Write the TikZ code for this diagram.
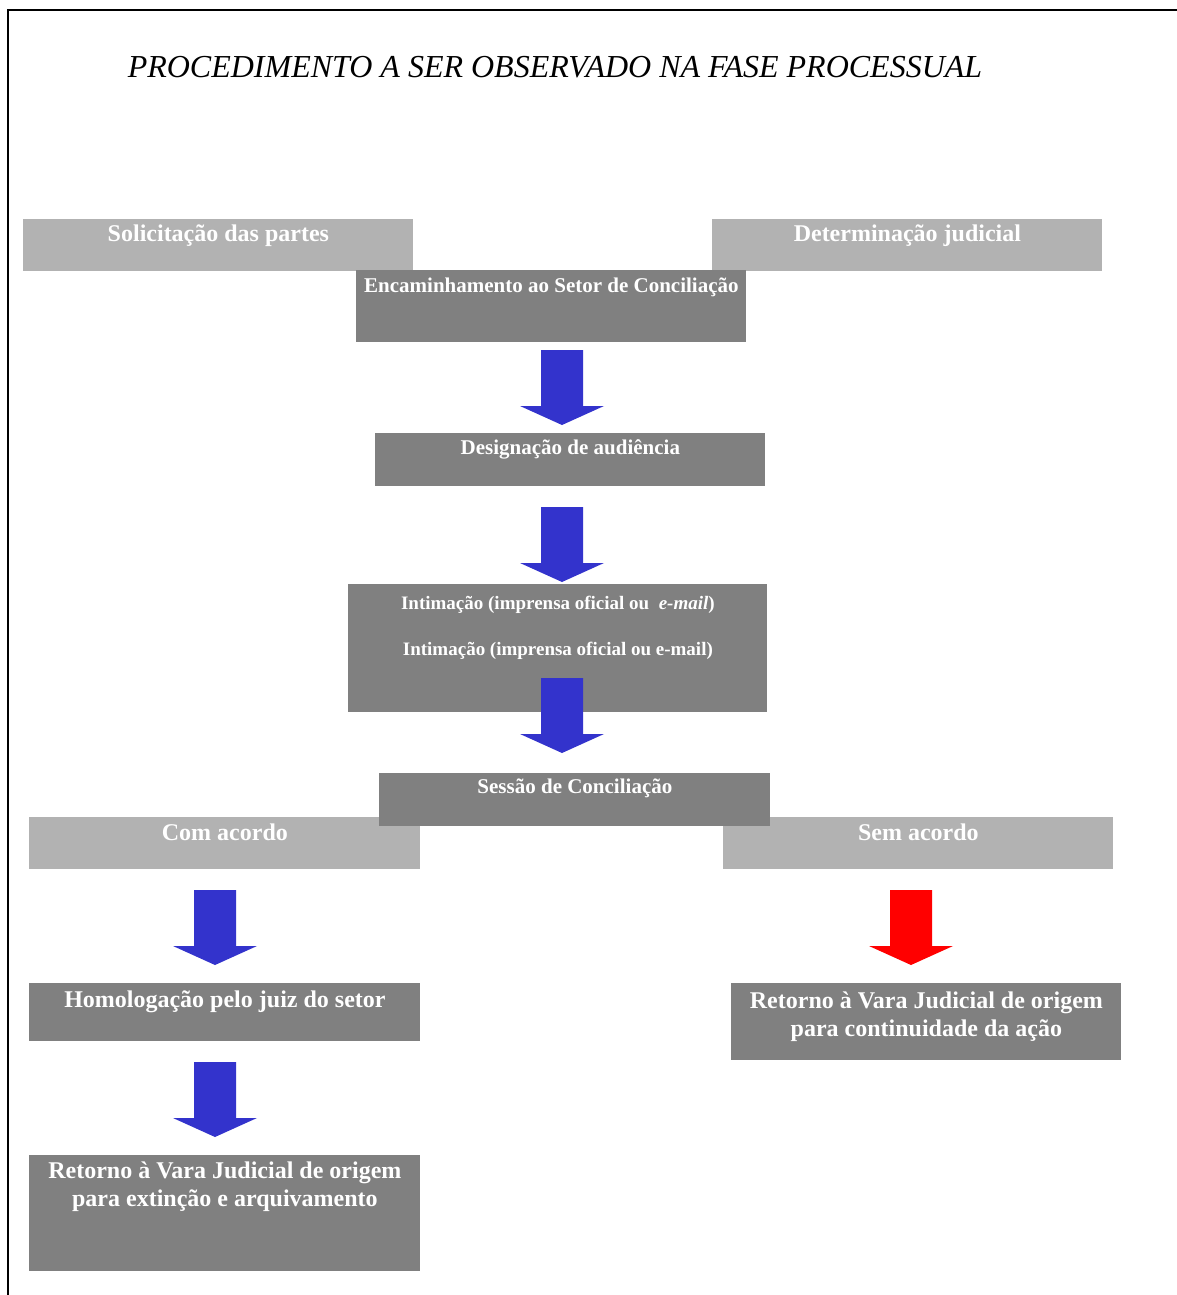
\documentclass[tikz,border=0pt]{standalone}
\usepackage{fontspec}
\setmainfont{Liberation Serif}
\usetikzlibrary{calc}
\definecolor{boxdark}{HTML}{808080}
\definecolor{boxlight}{HTML}{B2B2B2}
\definecolor{arrblue}{HTML}{3333CC}
\definecolor{arrred}{HTML}{FF0000}
\tikzset{
  box/.style={fill=boxdark,inner sep=0pt,anchor=north west},
  boxl/.style={box,fill=boxlight},
  lbl/.style={text=white,align=center,inner sep=0pt,anchor=base,font=\bfseries\fontsize{12}{14}\selectfont},
  lbls/.style={lbl,font=\bfseries\fontsize{10.5}{13}\selectfont},
  lblt/.style={lbl,font=\bfseries\fontsize{9.5}{23}\selectfont},
  ttl/.style={inner sep=0pt,anchor=base,font=\itshape\fontsize{16}{19}\selectfont},
}
% block arrow pointing down, from a named top coordinate
\newcommand{\blkarrow}[2]{%
  \fill[#1] ($(#2)+(-21,0)$) -- ($(#2)+(21,0)$) -- ($(#2)+(21,56)$) -- ($(#2)+(42,56)$)
    -- ($(#2)+(0,75)$) -- ($(#2)+(-42,56)$) -- ($(#2)+(-21,56)$) -- cycle;}

\begin{document}
\begin{tikzpicture}[x=0.5pt,y=-0.5pt]
  \useasboundingbox (0,0) rectangle (1177,1295);
  \draw[line width=1pt] (8,1295) -- (8,10) -- (1177,10);
  \node[ttl] (title) at (555,78) {PROCEDIMENTO A SER OBSERVADO NA FASE PROCESSUAL};

  \node[boxl,minimum width=195pt,minimum height=26pt] (sol) at (23,219) {};
  \node[boxl,minimum width=195pt,minimum height=26pt] (det) at (712,219) {};
  \node[box,minimum width=195pt,minimum height=36pt] (enc) at (356,270) {};
  \node[box,minimum width=195pt,minimum height=26.5pt] (des) at (375,433) {};
  \node[box,minimum width=209.5pt,minimum height=64pt] (int) at (348,584) {};
  \node[boxl,minimum width=195.5pt,minimum height=26pt] (com) at (29,817) {};
  \node[boxl,minimum width=195pt,minimum height=26pt] (sem) at (723,817) {};
  \node[box,minimum width=195.5pt,minimum height=26.5pt] (ses) at (379,773) {};
  \node[box,minimum width=195.5pt,minimum height=29pt] (hom) at (29,983) {};
  \node[box,minimum width=195pt,minimum height=38.5pt] (retd) at (731,983) {};
  \node[box,minimum width=195.5pt,minimum height=58pt] (rete) at (29,1155) {};

  % base anchor of a two-line label is its last line
  \node[lbl] at ($(sol.north)+(0,22)$) {Solicitação das partes};
  \node[lbl] at ($(det.north)+(0,22)$) {Determinação judicial};
  \node[lbls] at ($(enc.north)+(0,22)$) {Encaminhamento ao Setor de Conciliação};
  \node[lbls] at ($(des.north)+(0,21)$) {Designação de audiência};
  \node[lblt] at ($(int.north)+(0,71)$) {Intimação (imprensa oficial ou\ \ \textit{e-mail})\\Intimação (imprensa oficial ou e-mail)};
  \node[lbls] at ($(ses.north)+(0,20)$) {Sessão de Conciliação};
  \node[lbl] at ($(com.north)+(0,23)$) {Com acordo};
  \node[lbl] at ($(sem.north)+(0,23)$) {Sem acordo};
  \node[lbl] at ($(hom.north)+(0,24)$) {Homologação pelo juiz do setor};
  \node[lbl] at ($(retd.north)+(0,53)$) {Retorno à Vara Judicial de origem\\para continuidade da ação};
  \node[lbl] at ($(rete.north)+(0,51)$) {Retorno à Vara Judicial de origem\\para extinção e arquivamento};

  \coordinate (a1) at (562,350);
  \coordinate (a2) at (562,507);
  \coordinate (a3) at (562,678);
  \coordinate (a4) at (215,890);
  \coordinate (a5) at (911,890);
  \coordinate (a6) at (215,1062);
  \foreach \a in {a1,a2,a3,a4,a6} {\blkarrow{arrblue}{\a}}
  \blkarrow{arrred}{a5}
\end{tikzpicture}
\end{document}
